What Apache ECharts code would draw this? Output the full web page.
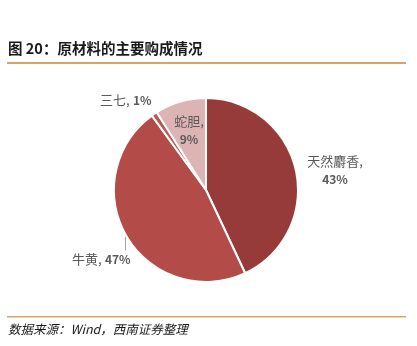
<!DOCTYPE html>
<html><head><meta charset="utf-8">
<script src="https://cdn.jsdelivr.net/npm/echarts@6/dist/echarts.min.js"></script>
<style>html,body{margin:0;padding:0;background:#fff}#c{width:417px;height:346px}</style>
</head><body><div id="c"></div>
<script>
const categories = ['天然麝香', '牛黄', '三七', '蛇胆'];
const values = [43, 47, 1, 9];
const colors = ['#963A3A', '#B34B49', '#BC5553', '#DDB4B4'];
const titleText = '图 20：原材料的主要购成情况';
const sourceText = '数据来源：Wind，西南证券整理';

const labelPos = [
  {x: 335, y: 167, align: 'center'},
  {x: 72, y: 256, align: 'left'},
  {x: 100, y: 97, align: 'left'},
  {x: 189, y: 127, align: 'center'}
];
function rich(align) {
  return {
    n: {fontSize: 13, color: '#595959', fontFamily: 'Noto Sans CJK SC', lineHeight: 19, align},
    p: {fontSize: 12, color: '#595959', fontWeight: 'bold', fontFamily: 'Noto Sans CJK SC', lineHeight: 19, align}
  };
}
const data = categories.map((name, i) => {
  const two = (i === 0 || i === 3);
  return {
    name, value: values[i],
    itemStyle: {color: colors[i]},
    label: {
      formatter: two ? '{n|' + name + ',}\n{p|' + values[i] + '%}' : '{n|' + name + ',} {p|' + values[i] + '%}',
      rich: rich(two ? 'center' : 'left')
    },
    labelLine: {show: i === 1, length: 6, length2: 0, smooth: false, lineStyle: {color: '#A6A6A6', width: 1}}
  };
});

const chart = echarts.init(document.getElementById('c'), null, {renderer: 'canvas'});
chart.setOption({
  animation: false,
  graphic: [
    {type: 'text', left: 8, top: 41, style: {text: titleText, font: 'bold 14.5px "Noto Sans CJK SC"', fill: '#1a1a1a'}},
    {type: 'rect', shape: {x: 7, y: 62, width: 399, height: 2}, style: {fill: '#D5A567'}},
    {type: 'rect', shape: {x: 7, y: 316, width: 399, height: 1.5}, style: {fill: '#D5A567'}},
    {type: 'text', left: 8, top: 323, style: {text: sourceText, font: 'italic 12.5px "Noto Sans CJK SC"', fill: '#1a1a1a'}}
  ],
  series: [{
    type: 'pie',
    center: [206, 190],
    radius: 92,
    startAngle: 90,
    clockwise: true,
    itemStyle: {borderColor: '#fff', borderWidth: 2},
    label: {show: true, position: 'outside'},
    labelLayout: function (p) {
      const lp = labelPos[p.dataIndex];
      const w = p.labelRect.width, h = p.labelRect.height;
      let x = lp.x;
      if (lp.align === 'center') x = lp.x - w / 2;
      const y = lp.y - h / 2;
      const out = {x: x, y: y, align: 'left', verticalAlign: 'top'};
      if (p.labelLinePoints && p.labelLinePoints.length) {
        const a = p.labelLinePoints[0];
        const ax = Math.round(a[0]) - 1.5;
        out.labelLinePoints = [[ax, a[1]], [ax, y + 1], [ax, y + 1]];
      }
      return out;
    },
    data
  }]
});
</script></body></html>
